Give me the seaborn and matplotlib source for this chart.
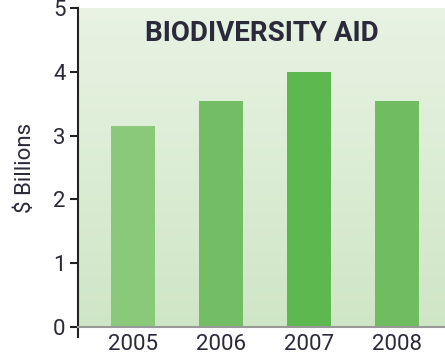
import numpy as np
import pandas as pd
import matplotlib
matplotlib.use('Agg')
import matplotlib.pyplot as plt
import seaborn as sns

# Data
years = ['2005', '2006', '2007', '2008']
aid = [3.15, 3.55, 4.0, 3.55]
bar_colors = ['#8bc97a', '#73be64', '#5cb84f', '#6fbd60']

df = pd.DataFrame({'Year': years, 'Aid': aid})

sns.set_style('white')
plt.rcParams['font.family'] = ['Roboto', 'DejaVu Sans']
text_col = '#2a2a3a'

fig = plt.figure(figsize=(4.45, 3.58), dpi=100)
ax = fig.add_axes([0.175, 0.0866, 0.825, 0.891])

# gradient background
grad = np.linspace(0, 1, 256).reshape(-1, 1)
cmap = matplotlib.colors.LinearSegmentedColormap.from_list('bg', ['#e8f3e3', '#cfe6c6'])
ax.imshow(grad, extent=[0, 1, 0, 1], transform=ax.transAxes,
          aspect='auto', cmap=cmap, zorder=0)

sns.barplot(data=df, x='Year', y='Aid', hue='Year', palette=bar_colors,
            legend=False, width=0.5, saturation=1, linewidth=0, ax=ax, zorder=2)

ax.set_xlim(-0.625, 3.55)
ax.set_ylim(0, 5)
ax.set_yticks([0, 1, 2, 3, 4, 5])
ax.set_xlabel('')
ax.set_ylabel(r'\$ Billions', fontsize=16, color=text_col, labelpad=12)

for s in ['top', 'right']:
    ax.spines[s].set_visible(False)
ax.spines['left'].set_color('#222222')
ax.spines['left'].set_linewidth(1.5)
ax.spines['left'].set_bounds(-0.15, 5)
ax.spines['bottom'].set_color('#999999')
ax.spines['bottom'].set_linewidth(1.5)

ax.tick_params(axis='y', length=6, width=1.5, color='#222222', direction='out',
               labelsize=16, labelcolor=text_col, pad=3, left=True)
ax.tick_params(axis='x', length=0, labelsize=16, labelcolor=text_col, pad=5)

ax.text(0.50, 0.92, 'BIODIVERSITY AID', transform=ax.transAxes,
        ha='center', va='center', fontsize=20, fontweight='bold', color=text_col)

fig.savefig('out.png', dpi=100)
